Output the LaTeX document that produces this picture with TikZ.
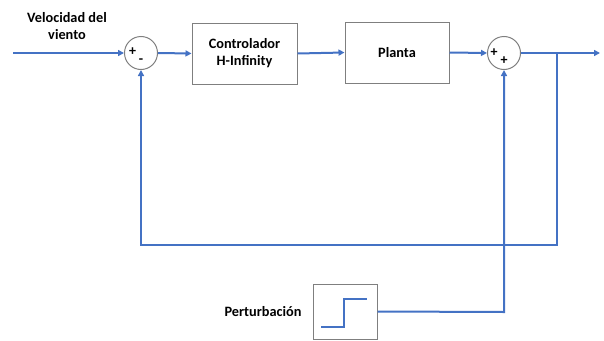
\documentclass[tikz,border=0pt]{standalone}
\usepackage{fontspec}
\setmainfont{Carlito}
\usetikzlibrary{arrows.meta}
\definecolor{sigblue}{HTML}{4472C4}
\definecolor{boxgray}{HTML}{7F7F7F}
\begin{document}
\begin{tikzpicture}[x=1pt,y=-1pt,
  signal/.style={draw=sigblue,line width=2pt},
  arr/.style={signal,-{Triangle[length=6pt,width=6pt]}},
  blockbox/.style={draw=boxgray,line width=1pt,fill=white,inner sep=0pt},
  sumnode/.style={circle,draw=boxgray,line width=1pt,minimum size=33pt,inner sep=0pt},
  lbl/.style={font=\fontsize{14.3}{17}\selectfont\bfseries,align=center},
  sgn/.style={font=\fontsize{14}{14}\selectfont\bfseries,inner sep=0pt}]
\useasboundingbox (0,0) rectangle (604,340);

% blocks
\node[blockbox,minimum width=105pt,minimum height=61pt] (ctrl) at (244.5,53.5) {};
\node[lbl] at (ctrl) {Controlador\\H-Infinity};
\node[blockbox,minimum width=104pt,minimum height=61pt] (plant) at (397,52.5) {};
\node[lbl] at (plant) {Planta};
\node[blockbox,minimum width=64pt,minimum height=55pt] (dist) at (345,311.5) {};

% summing junctions
\node[sumnode] (s1) at (141,53) {};
\node[sgn] at (132.5,52) {+};
\node[sgn] at (141,61) {-};
\node[sumnode] (s2) at (504,53) {};
\node[sgn] at (494,53) {+};
\node[sgn] at (504,61) {+};

% labels
\node[lbl] (vin) at (67,26) {Velocidad del\\viento};
\node[lbl,anchor=east] (plbl) at (305,312) {Perturbación};

% step inside disturbance block
\draw[signal,line width=1.6pt] (321,327) -- (344,327) -- (344,299) -- (367,299);

% helper points
\coordinate (in) at (13,53);
\coordinate (out) at (600,53);
\coordinate (br) at (557,53);
\coordinate (fbr) at (557,245);
\coordinate (fbl) at (141,245);
\coordinate (dc) at (504,312);

% connectors
\draw[arr] (in) -- (s1.west);
\draw[arr] (s1.east) -- (ctrl.west);
\draw[arr] (ctrl.east) -- (plant.west);
\draw[arr] (plant.east) -- (s2.west);
\draw[arr] (s2.east) -- (out);
\draw[arr] (br) -- (fbr) -- (fbl) -- (s1.south);
\draw[arr] (dist.east) -- (dc) -- (s2.south);
\end{tikzpicture}
\end{document}
